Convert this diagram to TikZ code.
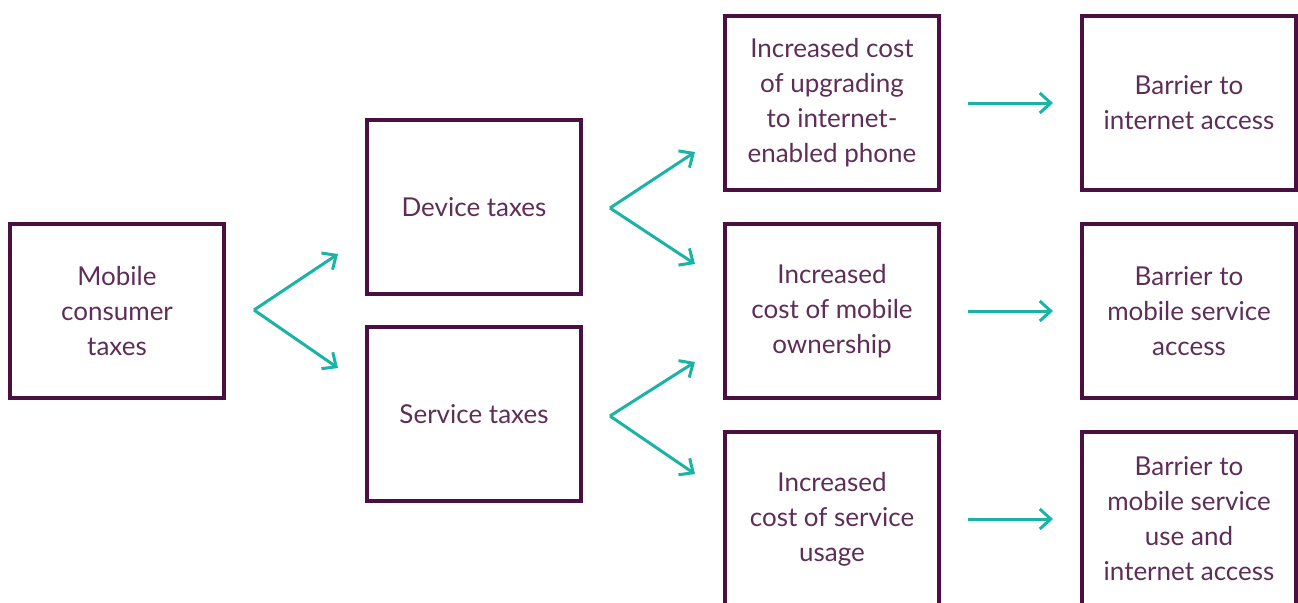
\documentclass[tikz,border=0pt]{standalone}
\usepackage{fontspec}
\setmainfont{Lato}
\usetikzlibrary{arrows.meta}

\definecolor{boxplum}{HTML}{4A1042}
\definecolor{textplum}{HTML}{5E2D58}
\definecolor{arrowteal}{HTML}{1AB3A6}

\tikzset{
  taxbox/.style={draw=boxplum, line width=2pt, minimum width=107pt, minimum height=87pt,
    align=center, text=textplum, font=\fontsize{13}{17.5}\selectfont},
  tealarrow/.style={draw=arrowteal, line width=1.5pt, -{Straight Barb[length=5.5pt,width=10pt]}}
}

\begin{document}
\begin{tikzpicture}[x=0.5pt,y=-0.5pt]
\useasboundingbox (0,0) rectangle (1298,602);
\clip (0,0) rectangle (1298,602);

\node[taxbox] (consumer) at (117,311) {Mobile\\consumer\\taxes};
\node[taxbox] (device) at (474,207) {Device taxes};
\node[taxbox] (service) at (474,414) {Service taxes};

\node[taxbox] (upgrade) at (832,103) {Increased cost\\of upgrading\\to internet-\\enabled phone};
\node[taxbox] (ownership) at (832,311) {Increased\\cost of mobile\\ownership};
\node[taxbox] (usage) at (832,519) {Increased\\cost of service\\usage};

\node[taxbox] (internet) at (1189,103) {Barrier to\\internet access};
\node[taxbox] (access) at (1189,311) {Barrier to\\mobile service\\access};
\node[taxbox] (use) at (1189,519) {Barrier to\\mobile service\\use and\\internet access};

% forks
\coordinate (forkA) at (254,310);
\coordinate (forkB) at (610,208);
\coordinate (forkC) at (610,416);
\coordinate (tipA1) at (338,254);
\coordinate (tipA2) at (338,368);
\coordinate (tipB1) at (695,152);
\coordinate (tipB2) at (695,264);
\coordinate (tipC1) at (695,362);
\coordinate (tipC2) at (695,474);

\draw[tealarrow] (forkA) -- (tipA1);
\draw[tealarrow] (forkA) -- (tipA2);
\draw[tealarrow] (forkB) -- (tipB1);
\draw[tealarrow] (forkB) -- (tipB2);
\draw[tealarrow] (forkC) -- (tipC1);
\draw[tealarrow] (forkC) -- (tipC2);

\draw[tealarrow, shorten <=13.5pt, shorten >=13.5pt] (upgrade) -- (internet);
\draw[tealarrow, shorten <=13.5pt, shorten >=13.5pt] (ownership) -- (access);
\draw[tealarrow, shorten <=13.5pt, shorten >=13.5pt] (usage) -- (use);
\end{tikzpicture}
\end{document}
